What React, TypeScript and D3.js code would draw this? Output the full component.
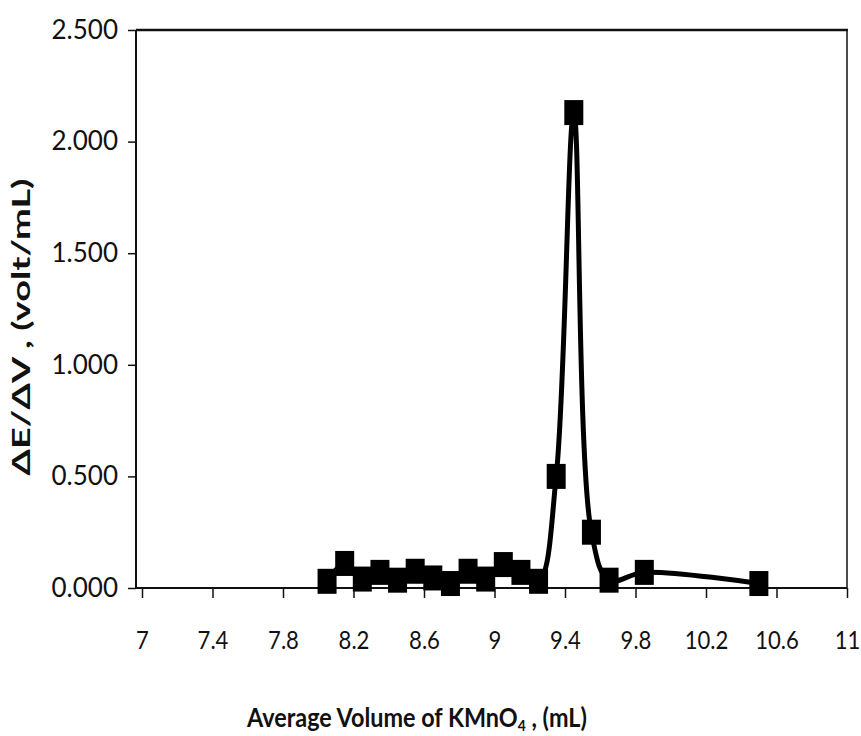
import React, { useEffect, useRef } from 'react';
import * as d3 from 'd3';

// average volume of KMnO4 (mL) and first derivative dE/dV (volt/mL)
const volumes = [8.05, 8.15, 8.25, 8.35, 8.45, 8.55, 8.65, 8.75, 8.85, 8.95, 9.05, 9.15, 9.25, 9.35, 9.45, 9.55, 9.65, 9.85, 10.5];
const dEdV = [0.03, 0.11, 0.04, 0.07, 0.035, 0.075, 0.045, 0.02, 0.075, 0.04, 0.105, 0.07, 0.03, 0.5, 2.13, 0.25, 0.035, 0.07, 0.02];

const xTicks = [7, 7.4, 7.8, 8.2, 8.6, 9, 9.4, 9.8, 10.2, 10.6, 11];
const yTicks = [0, 0.5, 1, 1.5, 2, 2.5];

const App = () => {
  const svgRef = useRef<SVGSVGElement>(null);

  useEffect(() => {
    const svg = d3.select(svgRef.current);
    svg.selectAll('*').remove();

    const w = 861;
    const h = 736;
    svg.attr('width', w).attr('height', h);

    const left = 136;
    const right = 847;
    const top = 30;
    const bottom = 588;

    const x = d3.scaleLinear().domain([7, 11]).range([142, right]);
    const y = d3.scaleLinear().domain([0, 2.5]).range([bottom, top]);

    const font = 'Lato, "Open Sans", sans-serif';

    // frame
    svg.append('line').attr('x1', left).attr('x2', right + 1).attr('y1', top).attr('y2', top)
      .attr('stroke', '#111').attr('stroke-width', 2.5);
    svg.append('line').attr('x1', left).attr('x2', left).attr('y1', top).attr('y2', bottom)
      .attr('stroke', '#111').attr('stroke-width', 2);
    svg.append('line').attr('x1', right).attr('x2', right).attr('y1', top).attr('y2', bottom)
      .attr('stroke', '#111').attr('stroke-width', 1.5);

    // x axis
    const xAxis = d3.axisBottom(x).tickValues(xTicks).tickSize(10).tickPadding(42)
      .tickFormat(d => d3.format('')(+d));
    const gx = svg.append('g').attr('transform', `translate(0, ${bottom})`).call(xAxis);
    gx.select('.domain').attr('d', `M${left},0H${right}`).attr('stroke', '#111').attr('stroke-width', 2);
    gx.selectAll('line').attr('stroke', '#111').attr('stroke-width', 1.5);
    gx.selectAll('text').attr('font-family', font).attr('font-size', 26).attr('fill', '#111')
      .attr('dy', '0.35em').attr('transform', 'scale(0.85, 1)');

    // y axis
    const yAxis = d3.axisLeft(y).tickValues(yTicks).tickSize(8).tickPadding(10)
      .tickFormat(d3.format('.3f'));
    const gy = svg.append('g').attr('transform', `translate(${left}, 0)`).call(yAxis);
    gy.select('.domain').remove();
    gy.selectAll('line').attr('stroke', '#111').attr('stroke-width', 1.5);
    gy.selectAll('text').attr('font-family', font).attr('font-size', 26).attr('fill', '#111');

    // smoothed line
    const line = d3.line<number>()
      .x((d, i) => x(volumes[i]))
      .y(d => y(d))
      .curve(d3.curveCatmullRom.alpha(0.5));

    svg.append('path')
      .datum(dEdV)
      .attr('d', line)
      .attr('fill', 'none')
      .attr('stroke', '#000')
      .attr('stroke-width', 5);

    // square markers
    svg.selectAll('.marker')
      .data(dEdV)
      .join('rect')
      .attr('class', 'marker')
      .attr('x', (d, i) => x(volumes[i]) - 9.5)
      .attr('y', d => y(d) - 12.5)
      .attr('width', 19)
      .attr('height', 25)
      .attr('fill', '#000');

    // x title, squeezed horizontally to the reference width
    const xt = svg.append('text')
      .attr('x', 0)
      .attr('y', 0)
      .attr('font-family', font)
      .attr('font-weight', 'bold')
      .attr('font-size', 27)
      .attr('fill', '#111');
    xt.append('tspan').text('Average Volume of  KMnO');
    xt.append('tspan').attr('font-size', 16).attr('dy', 4).text('4');
    xt.append('tspan').attr('dy', -4).text(' , (mL)');
    const xtw = (xt.node() as SVGTextElement).getComputedTextLength() || 400;
    xt.attr('transform', `translate(247, 727) scale(${340 / xtw}, 1)`);

    svg.append('text')
      .attr('transform', 'translate(30, 327) rotate(-90)')
      .attr('text-anchor', 'middle')
      .attr('font-family', font)
      .attr('font-weight', 'bold')
      .attr('font-size', 24)
      .attr('fill', '#111')
      .attr('textLength', 297)
      .attr('lengthAdjust', 'spacingAndGlyphs')
      .text('ΔE/ΔV , (volt/mL)');
  }, []);

  return (
    <div style={{ position: 'absolute', left: 0, top: 0, background: '#fff' }}>
      <svg ref={svgRef}></svg>
    </div>
  );
};

export default App;
